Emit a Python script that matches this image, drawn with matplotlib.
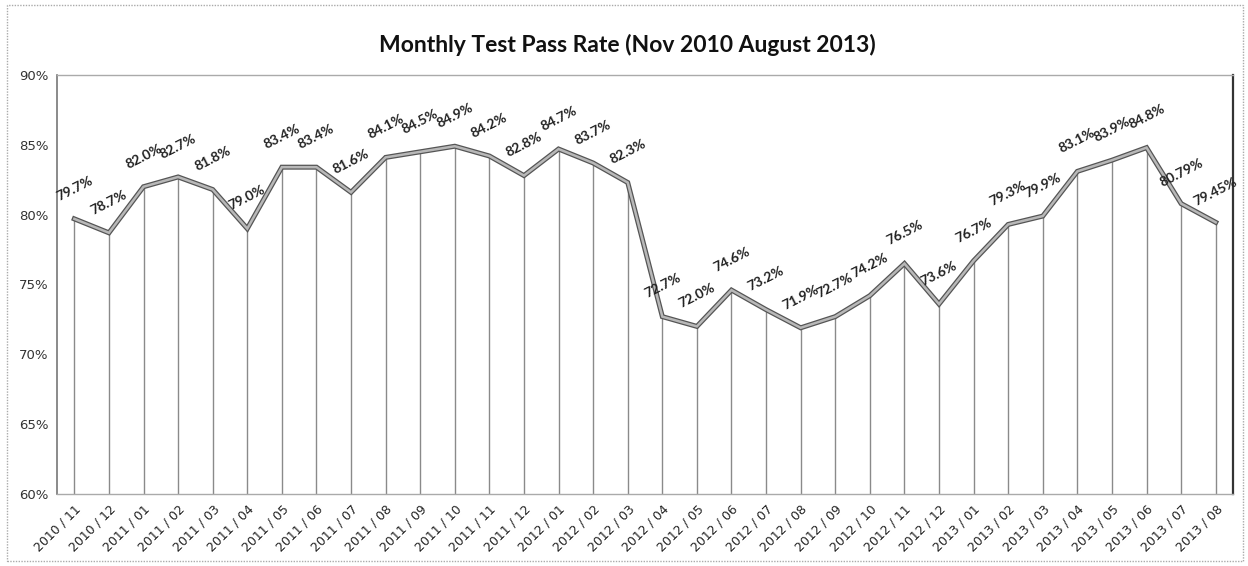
import matplotlib
matplotlib.use("Agg")
import matplotlib.pyplot as plt
from matplotlib.patches import Rectangle

months = ["2010 / 11", "2010 / 12",
          "2011 / 01", "2011 / 02", "2011 / 03", "2011 / 04", "2011 / 05", "2011 / 06",
          "2011 / 07", "2011 / 08", "2011 / 09", "2011 / 10", "2011 / 11", "2011 / 12",
          "2012 / 01", "2012 / 02", "2012 / 03", "2012 / 04", "2012 / 05", "2012 / 06",
          "2012 / 07", "2012 / 08", "2012 / 09", "2012 / 10", "2012 / 11", "2012 / 12",
          "2013 / 01", "2013 / 02", "2013 / 03", "2013 / 04", "2013 / 05", "2013 / 06",
          "2013 / 07", "2013 / 08"]
pass_rate = [79.7, 78.7, 82.0, 82.7, 81.8, 79.0, 83.4, 83.4, 81.6, 84.1, 84.5, 84.9,
             84.2, 82.8, 84.7, 83.7, 82.3, 72.7, 72.0, 74.6, 73.2, 71.9, 72.7, 74.2,
             76.5, 73.6, 76.7, 79.3, 79.9, 83.1, 83.9, 84.8, 80.79, 79.45]
labels = ["79.7%", "78.7%", "82.0%", "82.7%", "81.8%", "79.0%", "83.4%", "83.4%",
          "81.6%", "84.1%", "84.5%", "84.9%", "84.2%", "82.8%", "84.7%", "83.7%",
          "82.3%", "72.7%", "72.0%", "74.6%", "73.2%", "71.9%", "72.7%", "74.2%",
          "76.5%", "73.6%", "76.7%", "79.3%", "79.9%", "83.1%", "83.9%", "84.8%",
          "80.79%", "79.45%"]
y_ticks = [60, 65, 70, 75, 80, 85, 90]
title = "Monthly Test Pass Rate (Nov 2010 August 2013)"

fig = plt.figure(figsize=(12.48, 5.66), dpi=100)
ax = fig.add_axes([0.0457, 0.1272, 0.9423, 0.7403])

x = list(range(len(months)))
ax.vlines(x, 60, pass_rate, color="#8a8a8a", lw=1.0, zorder=1)
ax.plot(x, pass_rate, color="#555555", lw=3.6, solid_joinstyle="miter", zorder=2)
ax.plot(x, pass_rate, color="#b8b8b8", lw=1.8, solid_joinstyle="miter", zorder=3)

for xi, yi, lab in zip(x, pass_rate, labels):
    ax.annotate(lab, (xi, yi), xytext=(0, 22), textcoords="offset points",
                ha="center", va="center", rotation=27, fontsize=10,
                fontweight="bold", family=["Lato", "DejaVu Sans"],
                color="#222222", zorder=4)

ax.set_xlim(-0.5, len(months) - 0.5)
ax.set_ylim(60, 90)
ax.set_yticks(y_ticks)
ax.set_yticklabels([f"{v}%" for v in y_ticks], fontsize=9.5, color="#333333")
ax.set_xticks(x)
ax.set_xticklabels(months, rotation=45, ha="right", rotation_mode="anchor",
                   fontsize=9, color="#222222")
ax.tick_params(axis="both", length=0, pad=6)

ax.spines["left"].set_color("#777777")
ax.spines["left"].set_linewidth(1.2)
ax.spines["right"].set_color("#333333")
ax.spines["right"].set_linewidth(1.6)
for s in ("top", "bottom"):
    ax.spines[s].set_color("#aaaaaa")
    ax.spines[s].set_linestyle((0, (1, 1)))
    ax.spines[s].set_linewidth(1.0)

fig.text(0.503, 0.92, title, ha="center", va="center", fontsize=16.5,
         fontweight="bold", family=["Lato", "DejaVu Sans"], color="#111111")

fig.patches.append(Rectangle((0.006, 0.008), 0.99, 0.983, transform=fig.transFigure,
                             fill=False, edgecolor="#aaaaaa", lw=1.0,
                             linestyle=(0, (1, 1))))

fig.savefig("out.png", dpi=100)
